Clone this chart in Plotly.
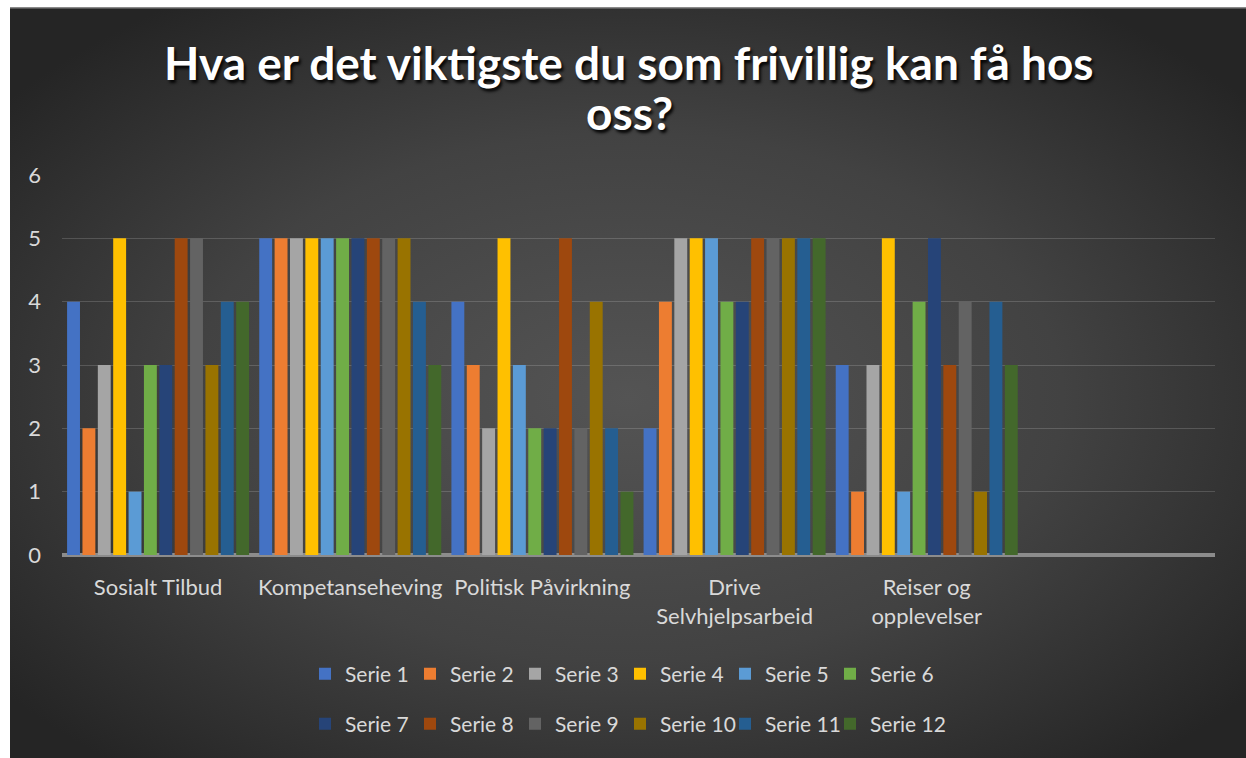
import plotly.graph_objects as go
import urllib.parse

categories = ["Sosialt Tilbud", "Kompetanseheving", "Politisk Påvirkning",
              "Drive<br>Selvhjelpsarbeid", "Reiser og<br>opplevelser", " "]
series_names = [f"Serie {i}" for i in range(1, 13)]
title_lines = ["Hva er det viktigste du som frivillig kan få hos", "oss?"]
# values per series across the first five categories
serie_1 = [4, 5, 4, 2, 3]
serie_2 = [2, 5, 3, 4, 1]
serie_3 = [3, 5, 2, 5, 3]
serie_4 = [5, 5, 5, 5, 5]
serie_5 = [1, 5, 3, 5, 1]
serie_6 = [3, 5, 2, 4, 4]
serie_7 = [3, 5, 2, 4, 5]
serie_8 = [5, 5, 5, 5, 3]
serie_9 = [5, 5, 2, 5, 4]
serie_10 = [3, 5, 4, 5, 1]
serie_11 = [4, 4, 2, 5, 4]
serie_12 = [4, 3, 1, 5, 3]
series_values = [serie_1, serie_2, serie_3, serie_4, serie_5, serie_6,
                 serie_7, serie_8, serie_9, serie_10, serie_11, serie_12]
colors = ["#4472C4", "#ED7D31", "#A5A5A5", "#FFC000", "#5B9BD5", "#70AD47",
          "#264478", "#9E480E", "#636363", "#997300", "#255E91", "#43682B"]

W, H = 1246, 758
L, R, T, B = 62, 31, 175, 203
pw, ph = W - L - R, H - T - B

fig = go.Figure()
for i, (name, vals) in enumerate(zip(series_names, series_values)):
    fig.add_trace(go.Bar(
        x=categories[:len(vals)], y=vals, name=name,
        marker=dict(color=colors[i], line=dict(width=0)),
        legend="legend" if i < 6 else "legend2",
    ))
# invisible spacer entries so the last legend label is not clipped
for lg in ["legend", "legend2"]:
    fig.add_trace(go.Scatter(
        x=[None], y=[None], name="", mode="markers",
        marker=dict(color="rgba(0,0,0,0)", size=1, opacity=0,
                    line=dict(width=0, color="rgba(0,0,0,0)")),
        legend=lg, hoverinfo="skip", showlegend=True,
    ))

svg = (
    "<svg xmlns='http://www.w3.org/2000/svg' width='1236' height='751'>"
    "<defs><radialGradient id='g' cx='50%' cy='52%' r='64%'>"
    "<stop offset='0' stop-color='#545454'/>"
    "<stop offset='0.55' stop-color='#424242'/>"
    "<stop offset='1' stop-color='#252525'/>"
    "</radialGradient></defs>"
    "<rect width='1236' height='751' fill='url(#g)'/>"
    "<rect x='0' y='0' width='1236' height='1.5' fill='#8a8a8a'/>"
    "</svg>"
)
src = "data:image/svg+xml;charset=utf-8," + urllib.parse.quote(svg)

FONT = "Lato, 'Open Sans', sans-serif"
tick_font = dict(family=FONT, size=22, color="#d9d9d9")
leg_font = dict(family=FONT, size=21, color="#d9d9d9")
leg_common = dict(orientation="h", xanchor="left", x=(305 - L) / pw,
                  yanchor="middle", font=leg_font, bgcolor="rgba(0,0,0,0)",
                  entrywidth=60, entrywidthmode="pixels", itemclick=False)

title_font = dict(family=FONT, size=46, color="white", weight="bold",
                  shadow="2px 3px 3px rgba(0,0,0,0.9)")
annotations = []
for line, ypx in zip(title_lines, [62, 112]):
    annotations.append(dict(
        text=line, xref="paper", yref="paper", x=(629 - L) / pw,
        y=(T + ph - ypx) / ph, xanchor="center", yanchor="middle",
        showarrow=False, font=title_font,
    ))

fig.update_layout(
    width=W, height=H,
    margin=dict(l=L, r=R, t=T, b=B, pad=0),
    paper_bgcolor="white",
    plot_bgcolor="rgba(0,0,0,0)",
    barmode="group", bargap=0.04, bargroupgap=0.16,
    annotations=annotations,
    xaxis=dict(
        type="category", categoryorder="array", categoryarray=categories,
        range=[-0.5, 5.5], showgrid=False, showline=False, ticks="",
        tickfont=tick_font, ticklabelstandoff=17, fixedrange=True,
    ),
    yaxis=dict(
        range=[0, 6], dtick=1, showgrid=True, gridcolor="rgba(255,255,255,0.16)",
        gridwidth=1, zeroline=True, zerolinecolor="#8c8c8c", zerolinewidth=4,
        showline=False, ticks="", tickfont=tick_font,
        ticklabelstandoff=20, fixedrange=True,
    ),
    legend=dict(y=(555 - 674) / ph, **leg_common),
    legend2=dict(y=(555 - 724) / ph, **leg_common),
    images=[dict(
        source=src, xref="paper", yref="paper",
        x=(10 - L) / pw, y=(T + ph - 7) / ph,
        sizex=1236 / pw, sizey=751 / ph,
        xanchor="left", yanchor="top", sizing="stretch", layer="below",
    )],
)

fig.write_html("out.html", config={"displayModeBar": False},
               post_script="document.body.style.margin='0';")
